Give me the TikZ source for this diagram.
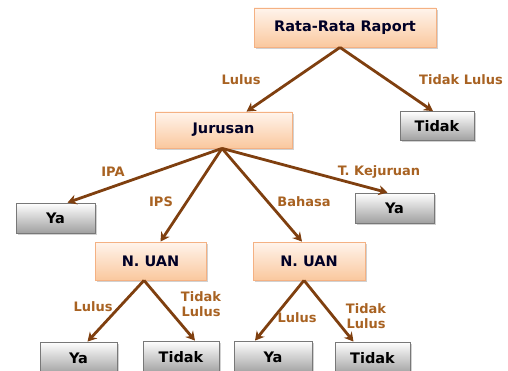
\documentclass[tikz,border=0pt]{standalone}
\usepackage{fontspec}
\setmainfont{DejaVu Sans}
\usetikzlibrary{arrows.meta,shadows,calc}
\definecolor{arrowbrown}{RGB}{127,63,15}
\definecolor{labelbrown}{RGB}{168,98,34}
\definecolor{peachtop}{RGB}{255,244,236}
\definecolor{peachbot}{RGB}{250,200,158}
\definecolor{peachline}{RGB}{244,177,131}
\definecolor{graybot}{RGB}{160,160,160}
\definecolor{grayline}{RGB}{120,120,120}
\tikzset{
  peachbox/.style={rectangle, draw=peachline, line width=0.8pt, top color=peachtop, bottom color=peachbot,
    drop shadow={shadow xshift=2pt, shadow yshift=-2pt, fill=black!30, opacity=0.6},
    font=\fontsize{14.5}{16}\selectfont\bfseries, text=black!85!blue, inner sep=0pt},
  graybox/.style={rectangle, draw=grayline, line width=0.8pt, top color=white, bottom color=graybot,
    drop shadow={shadow xshift=2pt, shadow yshift=-2pt, fill=black!30, opacity=0.6},
    font=\fontsize{14.5}{16}\selectfont\bfseries, text=black, inner sep=0pt},
  conn/.style={draw=arrowbrown, line width=2.8pt, -{Stealth[length=9pt,width=10pt]}},
  lbl/.style={font=\fontsize{13}{15}\selectfont\bfseries, text=labelbrown, align=center, inner sep=0pt}
}
\begin{document}
\begin{tikzpicture}[x=1pt,y=-1pt]
\useasboundingbox (0,0) rectangle (508,371);
% nodes
\node[peachbox, minimum width=182pt, minimum height=39pt] (rata) at (345,27.5) {Rata-Rata Raport};
\node[peachbox, minimum width=137pt, minimum height=36pt] (jur) at (223.5,130) {Jurusan};
\node[graybox, minimum width=74pt, minimum height=29pt] (tidak1) at (437,126) {Tidak};
\node[graybox, minimum width=79pt, minimum height=30pt] (ya1) at (55.5,218) {Ya};
\node[graybox, minimum width=79pt, minimum height=30pt] (ya2) at (394.5,208) {Ya};
\node[peachbox, minimum width=111pt, minimum height=38pt] (uan1) at (150.5,261) {N. UAN};
\node[peachbox, minimum width=112pt, minimum height=38pt] (uan2) at (309,261) {N. UAN};
\node[graybox, minimum width=77pt, minimum height=32pt] (ya3) at (78.5,358) {Ya};
\node[graybox, minimum width=76pt, minimum height=32pt] (tidak2) at (181,357) {Tidak};
\node[graybox, minimum width=78pt, minimum height=32pt] (ya4) at (273,357) {Ya};
\node[graybox, minimum width=75pt, minimum height=32pt] (tidak3) at (372.5,358) {Tidak};
% connectors
\draw[conn] (rata.south -| 340,0) -- ([xshift=23pt]jur.north);
\draw[conn] (rata.south -| 340,0) -- ([xshift=-4pt]tidak1.north);
\draw[conn] (jur.south -| 222,0) -- ([xshift=12pt]ya1.north);
\draw[conn] (jur.south -| 222,0) -- ([xshift=10pt]uan1.north);
\draw[conn] (jur.south -| 222,0) -- ([xshift=-7pt]uan2.north);
\draw[conn] (jur.south -| 222,0) -- ([xshift=-7pt]ya2.north);
\draw[conn] (uan1.south -| 144,0) -- ([xshift=9pt]ya3.north);
\draw[conn] (uan1.south -| 144,0) -- ([xshift=14pt]tidak2.north);
\draw[conn] (uan2.south -| 304,0) -- ([xshift=-18pt]ya4.north);
\draw[conn] (uan2.south -| 304,0) -- ([xshift=-19pt]tidak3.north);
% labels
\node[lbl] (l1) at (241,80) {Lulus};
\node[lbl] (l2) at (461,80) {Tidak Lulus};
\node[lbl] (l3) at (113,172) {IPA};
\node[lbl] (l4) at (161,202) {IPS};
\node[lbl] (l5) at (304,202) {Bahasa};
\node[lbl] (l6) at (379,172) {T. Kejuruan};
\node[lbl] (l7) at (93,307) {Lulus};
\node[lbl, text width=44pt] (l8) at (201,304) {Tidak\\Lulus};
\node[lbl] (l9) at (297,318) {Lulus};
\node[lbl, text width=44pt] (l10) at (366,316) {Tidak\\Lulus};
\end{tikzpicture}
\end{document}
